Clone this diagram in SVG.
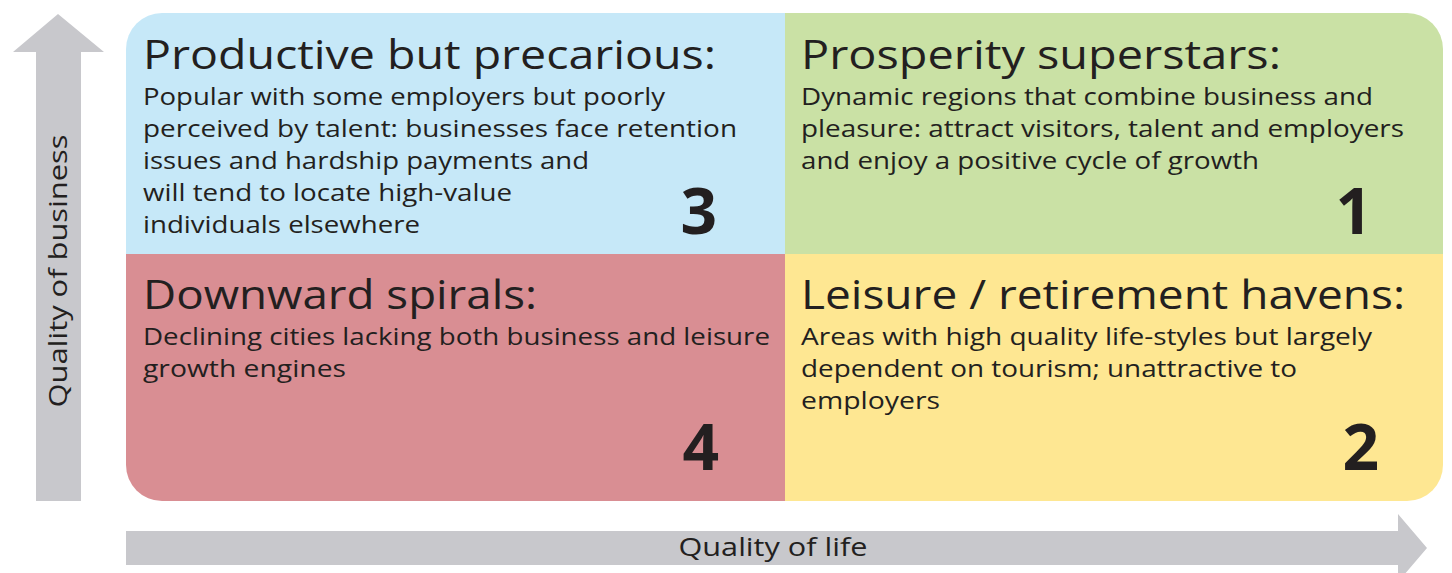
<svg xmlns="http://www.w3.org/2000/svg" width="1452" height="573" viewBox="0 0 1452 573">
<defs>
<clipPath id="box"><rect x="126" y="13" width="1317" height="488" rx="36" ry="36"/></clipPath>
<style>
.t{font-family:"Open Sans","Liberation Sans",sans-serif;fill:#231F20;}
.h{font-size:40px;}
.b{font-size:24px;}
.n{font-size:64px;font-weight:bold;text-anchor:end;}
.ax{font-size:25px;text-anchor:middle;}
.arrow{fill:#C8C8CC;}
</style>
</defs>
<g id="axes">
<path class="arrow" d="M36,501 L36,52 L13,52 L58,14 L104,52 L81,52 L81,501 Z"/>
<path class="arrow" d="M126,531 L1398,531 L1398,514 L1427,548 L1398,582 L1398,565 L126,565 Z"/>
<text class="t ax" transform="translate(67,271) rotate(-90)" textLength="273" lengthAdjust="spacingAndGlyphs">Quality of business</text>
<text class="t ax" x="773" y="556" textLength="189" lengthAdjust="spacingAndGlyphs">Quality of life</text>
</g>
<g clip-path="url(#box)">
<g id="q3">
<rect x="126" y="13" width="659" height="241" fill="#C6E8F8"/>
<text class="t h" x="143" y="69" textLength="573" lengthAdjust="spacingAndGlyphs">Productive but precarious:</text>
<text class="t b" x="143" y="105" textLength="522" lengthAdjust="spacingAndGlyphs">Popular with some employers but poorly</text>
<text class="t b" x="143" y="137" textLength="594" lengthAdjust="spacingAndGlyphs">perceived by talent: businesses face retention</text>
<text class="t b" x="143" y="169" textLength="446" lengthAdjust="spacingAndGlyphs">issues and hardship payments and</text>
<text class="t b" x="143" y="201" textLength="369" lengthAdjust="spacingAndGlyphs">will tend to locate high-value</text>
<text class="t b" x="143" y="233" textLength="277" lengthAdjust="spacingAndGlyphs">individuals elsewhere</text>
<text class="t n" x="717" y="234">3</text>
</g>
<g id="q1">
<rect x="785" y="13" width="658" height="241" fill="#CAE1A5"/>
<text class="t h" x="801" y="69" textLength="480" lengthAdjust="spacingAndGlyphs">Prosperity superstars:</text>
<text class="t b" x="801" y="105" textLength="572" lengthAdjust="spacingAndGlyphs">Dynamic regions that combine business and</text>
<text class="t b" x="801" y="137" textLength="603" lengthAdjust="spacingAndGlyphs">pleasure: attract visitors, talent and employers</text>
<text class="t b" x="801" y="169" textLength="458" lengthAdjust="spacingAndGlyphs">and enjoy a positive cycle of growth</text>
<text class="t n" x="1372" y="234">1</text>
</g>
<g id="q4">
<rect x="126" y="254" width="659" height="247" fill="#D98E93"/>
<text class="t h" x="143" y="309" textLength="394" lengthAdjust="spacingAndGlyphs">Downward spirals:</text>
<text class="t b" x="143" y="345" textLength="627" lengthAdjust="spacingAndGlyphs">Declining cities lacking both business and leisure</text>
<text class="t b" x="143" y="377" textLength="203" lengthAdjust="spacingAndGlyphs">growth engines</text>
<text class="t n" x="719" y="470">4</text>
</g>
<g id="q2">
<rect x="785" y="254" width="658" height="247" fill="#FEE792"/>
<text class="t h" x="801" y="309" textLength="604" lengthAdjust="spacingAndGlyphs">Leisure / retirement havens:</text>
<text class="t b" x="801" y="345" textLength="571" lengthAdjust="spacingAndGlyphs">Areas with high quality life-styles but largely</text>
<text class="t b" x="801" y="377" textLength="496" lengthAdjust="spacingAndGlyphs">dependent on tourism; unattractive to</text>
<text class="t b" x="801" y="409" textLength="139" lengthAdjust="spacingAndGlyphs">employers</text>
<text class="t n" x="1379" y="470">2</text>
</g>
</g>
</svg>
